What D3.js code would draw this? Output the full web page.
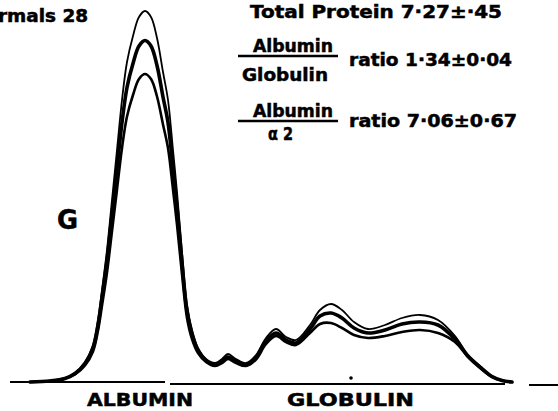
<!DOCTYPE html>
<html>
<head>
  <title>Serum protein electrophoresis - normals</title>
  <script src="https://d3js.org/d3.v7.min.js"></script>
  <style>
    body {
      margin: 0;
      background: #fff;
    }
    svg text {
      font-family: "DejaVu Sans", sans-serif;
      font-weight: bold;
      fill: #000;
      stroke: #000;
      stroke-width: 0.5px;   /* heavier, like the stencil lettering */
    }
  </style>
</head>
<body>
  <div id="chart"></div>

  <script>
    // migration distance (arbitrary mm along the strip)
    const distance = [4, 8, 11, 13, 15, 16.6, 17.6, 18.4, 19.4, 20.4, 21.4, 22.4, 23.4, 24.6, 25.8, 27,
      28.2, 29.4, 30.6, 31.6, 32.6, 33.4, 34.4, 35.4, 36.4, 37.6, 39.2, 41, 42.4, 43.6, 45.2, 47.2,
      49.2, 51.2, 53.2, 55.2, 57.2, 60, 62, 64.2, 66.4, 68.8, 71.6, 75, 78.4, 82, 85.6, 89, 91.6,
      94, 96.4, 98.4, 100.4];

    // densitometer tracings (optical density, arbitrary units)
    const traceHigh = [0, 0.2, 0.8, 1.8, 4, 7.4, 12.4, 18.4, 26.4, 36.4, 46.4, 56.4, 64, 69.2, 73, 74.2,
      73, 68.8, 62, 56.4, 46.4, 38, 26, 15.4, 10.4, 6.8, 4.6, 3.8, 4.6, 5.6, 4.6, 3.8,
      5.4, 8.8, 10.6, 9, 8.4, 11.4, 14.4, 15.6, 14.4, 12, 10.6, 11.4, 12.8, 13.4, 12.4, 9.2, 5.4,
      3.2, 1.2, 0.3, 0];
    const traceMid = [0, 0.2, 0.7, 1.7, 3.7, 6.8, 11.4, 16.9, 24.3, 33.5, 42.7, 51.9, 58.9, 63.7, 67.2, 68.3,
      67.2, 63.3, 57, 51.9, 42.7, 35, 23.9, 14.2, 9.6, 6.3, 4.3, 3.4, 4.2, 5, 4.2, 3.4,
      4.9, 8.2, 9.8, 8.4, 7.8, 10.6, 13.2, 13.8, 12.8, 10.8, 9.8, 10.4, 11.6, 12, 11.4, 8.6, 5.2,
      3, 1.1, 0.3, 0];
    const traceLow = [0, 0.2, 0.7, 1.5, 3.3, 6.1, 10.3, 15.3, 21.9, 30.2, 38.5, 46.8, 53.1, 57.4, 60.6, 61.6,
      60.6, 57.1, 51.5, 46.8, 38.5, 31.5, 21.6, 12.8, 8.6, 5.8, 4, 3.2, 3.8, 4.6, 3.8, 3.2,
      4.5, 7.6, 9.2, 8, 7.4, 9.8, 11.6, 11.8, 10.8, 9.4, 8.8, 9.2, 10, 10.4, 9.8, 8, 5,
      2.8, 1, 0.3, 0];

    const traces = [
      { name: "high", values: traceHigh, width: 1.8 },
      { name: "mid", values: traceMid, width: 3.6 },
      { name: "low", values: traceLow, width: 2.6 }
    ];

    // baseline pieces (start, end, level) as drawn on the strip
    const baseStart = [0, 32, 103.8];
    const baseEnd = [31, 99, 110];
    const baseLevel = [0, -0.4, -0.6];

    const fractionLabels = ["ALBUMIN", "GLOBULIN"];
    const fractionPos = [15.4, 55.4];

    const width = 558, height = 411;

    const svg = d3.select("#chart")
      .append("svg")
      .attr("width", width)
      .attr("height", height);

    svg.append("rect")
      .attr("width", width)
      .attr("height", height)
      .attr("fill", "#fff");

    const x = d3.scaleLinear().domain([0, 110]).range([10, 560]);
    const y = d3.scaleLinear().domain([0, 75]).range([382, 7]);

    // baseline
    svg.append("g")
      .selectAll("line")
      .data(baseStart)
      .join("line")
      .attr("x1", d => x(d))
      .attr("x2", (d, i) => x(baseEnd[i]))
      .attr("y1", (d, i) => y(baseLevel[i]))
      .attr("y2", (d, i) => y(baseLevel[i]))
      .attr("stroke", "#000")
      .attr("stroke-width", 2);

    // small mark on the baseline
    svg.append("circle")
      .attr("cx", x(68.2))
      .attr("cy", y(0.8))
      .attr("r", 1.8)
      .attr("fill", "#000");

    const line = d3.line()
      .x((d, i) => x(distance[i]))
      .y(d => y(d))
      .curve(d3.curveCatmullRom.alpha(0.5));

    svg.append("g")
      .selectAll("path")
      .data(traces)
      .join("path")
      .attr("d", d => line(d.values))
      .attr("fill", "none")
      .attr("stroke", "#000")
      .attr("stroke-width", d => d.width)
      .attr("stroke-linejoin", "round")
      .attr("stroke-linecap", "round");

    // fraction labels under the strip
    svg.append("g")
      .selectAll("text")
      .data(fractionLabels)
      .join("text")
      .attr("x", (d, i) => x(fractionPos[i]))
      .attr("y", 406)
      .attr("font-size", 18)
      .attr("textLength", (d, i) => i === 0 ? 106 : 127)
      .attr("lengthAdjust", "spacingAndGlyphs")
      .text(d => d);

    // annotations
    function label(txt, tx, ty, size, len) {
      const t = svg.append("text")
        .attr("x", tx)
        .attr("y", ty)
        .attr("font-size", size)
        .text(txt);
      if (len) t.attr("textLength", len).attr("lengthAdjust", "spacingAndGlyphs");
      return t;
    }

    // the original figure is trimmed on the left, so this title runs off the edge
    label("Normals 28", -30, 22, 17, 118);
    label("Total Protein 7·27±·45", 250, 18, 17, 252);
    label("Albumin", 253, 52, 17, 80);
    label("Globulin", 242, 81, 17, 86);
    label("ratio 1·34±0·04", 349, 66, 17, 163);
    label("Albumin", 253, 117, 17, 80);
    label("α 2", 268, 140, 17, 25);
    label("ratio 7·06±0·67", 349, 127, 17, 168);
    label("G", 57, 229, 26, 21);

    // fraction bars
    svg.append("g")
      .selectAll("line")
      .data([56, 121])
      .join("line")
      .attr("x1", 238)
      .attr("x2", 338)
      .attr("y1", d => d)
      .attr("y2", d => d)
      .attr("stroke", "#000")
      .attr("stroke-width", 2.5);
  </script>
</body>
</html>
